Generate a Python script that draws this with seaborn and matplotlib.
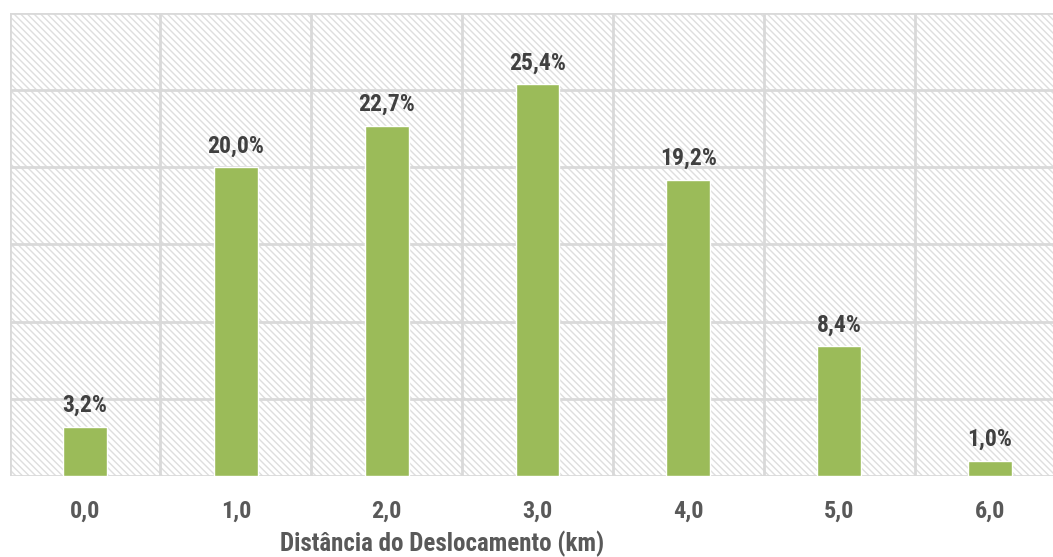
import matplotlib
matplotlib.use("Agg")
import matplotlib.pyplot as plt
import seaborn as sns
import pandas as pd
from matplotlib.patches import Rectangle

# Data
distancias = ["0,0", "1,0", "2,0", "3,0", "4,0", "5,0", "6,0"]
percentuais = [3.2, 20.0, 22.7, 25.4, 19.2, 8.4, 1.0]
rotulos = ["3,2%", "20,0%", "22,7%", "25,4%", "19,2%", "8,4%", "1,0%"]

df = pd.DataFrame({"dist": distancias, "pct": percentuais})

sns.set_theme(style="white")
plt.rcParams["font.family"] = ["Liberation Sans Narrow", "Roboto Condensed",
                               "Archivo Narrow", "Liberation Sans", "DejaVu Sans"]
plt.rcParams["hatch.linewidth"] = 1.0

fig = plt.figure(figsize=(10.53, 5.57), dpi=100)
ax = fig.add_axes([0.0091, 0.1454, 1.0027, 0.8313])

# hatched background behind the bars
ax.patch.set_visible(False)
bg = Rectangle((0, 0), 1, 1, transform=ax.transAxes, facecolor="white",
               edgecolor="#dedede", hatch="\\\\\\\\\\", lw=0, zorder=0)
ax.add_patch(bg)

sns.barplot(data=df, x="dist", y="pct", color="#9bbb59", width=0.29,
            saturation=1, ax=ax, zorder=3)

ax.set_ylim(0, 30)
ax.set_xlim(-0.5, 6.5)
ax.set_yticks(range(0, 31, 5))
ax.set_xticks([i - 0.5 for i in range(8)], minor=True)
ax.grid(True, axis="y", color="#d9d9d9", lw=2, zorder=1)
ax.grid(True, axis="x", which="minor", color="#d9d9d9", lw=2, zorder=1)
ax.grid(False, axis="x", which="major")
ax.tick_params(axis="y", left=False, labelleft=False)
ax.tick_params(axis="x", which="both", bottom=False, length=0, pad=17,
               labelsize=17.5, labelcolor="#595959")
for lab in ax.get_xticklabels():
    lab.set_fontweight("bold")
for s in ax.spines.values():
    s.set_visible(False)

# value labels over the bars
for i, (v, t) in enumerate(zip(percentuais, rotulos)):
    ax.annotate(t, (i, v), xytext=(0, 7), textcoords="offset points",
                ha="center", va="bottom", fontsize=17, fontweight="bold",
                color="#404040", zorder=4)

ax.set_xlabel("")
ax.set_ylabel("")
fig.text(442 / 1053, 1 - 544 / 557, "Distância do Deslocamento (km)",
         ha="center", va="center", fontsize=18, fontweight="bold", color="#595959")

fig.savefig("out.png", dpi=100)
